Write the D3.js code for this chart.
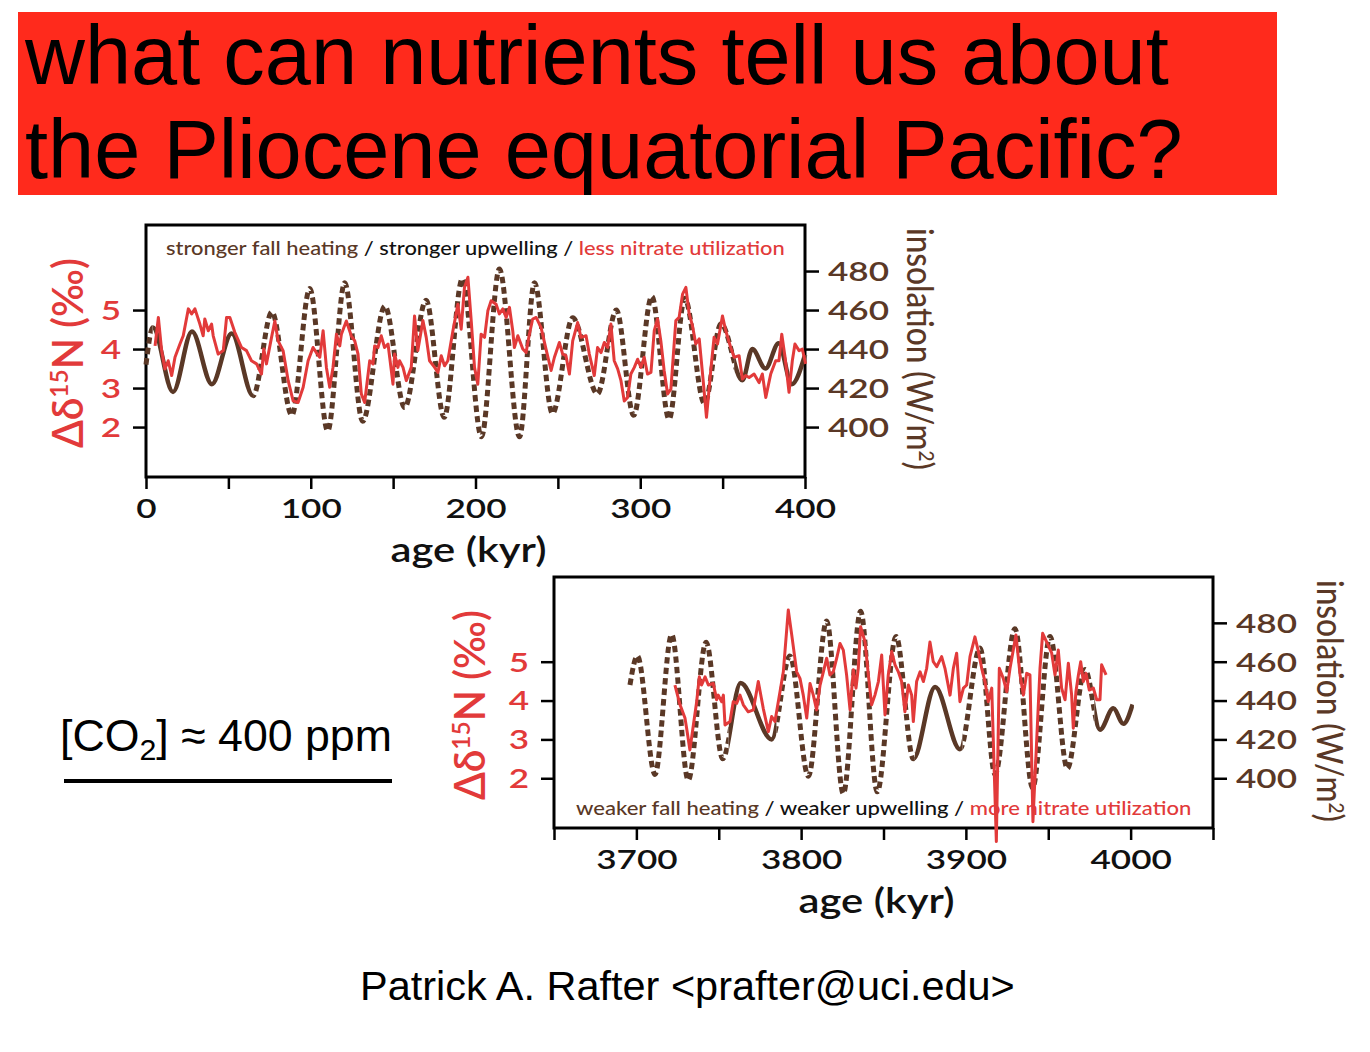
<!DOCTYPE html>
<html>
<head>
<meta charset="utf-8">
<script src="https://cdn.jsdelivr.net/npm/d3@7"></script>
<style>
  body { margin: 0; background: #fff; }
  svg { display: block; }
</style>
</head>
<body>
<div id="chart"></div>
<script>
const svgWidth = 1370;
const svgHeight = 1052;

const brown = "#5a3826";
const red = "#e23a3a";
const futura = "Lato, 'Open Sans', sans-serif";
const arial = "'Liberation Sans', Arial, sans-serif";
const SX = 1.35; // the figure was pasted in stretched sideways

// shared y scales
const n15Domain = [0.72, 7.18];
const insolDomain = [374.4, 503.6];
const n15Ticks = [2, 3, 4, 5];
const insolTicks = [400, 420, 440, 460, 480];

// ---- upper panel, 0-400 kyr ----
const topAgeDomain = [0, 400];
const topAgeTicks = [0, 50, 100, 150, 200, 250, 300, 350, 400];

const topInsolAge = [0, 4.2, 16.4, 27.9, 40, 52, 65, 76.4, 88.5, 99.4, 110.3, 120.6, 131.5,
  145, 157, 170, 181, 192, 203.6, 214.5, 226.7, 235.8, 246.7, 259, 274, 285.5, 296, 307,
  317.5, 327, 339, 349, 362, 368, 376, 384, 392, 400];
const topInsolVal = [432, 451, 418, 449, 422, 448, 416, 459, 406, 471, 398, 474, 403,
  462, 410, 465, 405, 476, 395, 481, 395, 474, 407, 456, 417, 460, 406, 467,
  404, 466, 412, 453, 424, 440, 430, 443, 422, 437];
const topInsolSolid = [[4, 65], [357, 401]];

const topN15Age = [5.5, 7.5, 9.5, 11.5, 13.5, 15.6, 17.6, 20.6, 22.6, 25.7, 27.7, 29.7, 32.7,
  34.7, 35.7, 37.8, 39.8, 40.8, 43.8, 46.9, 48.9, 50.9, 53.9, 58, 61, 64, 67.1, 70.1, 71.5,
  73.1, 76.2, 78.2, 80.2, 83.2, 86.3, 89.3, 92.3, 95.4, 98.4, 101.4, 103.4, 105.5, 107.5,
  109.5, 111.5, 113.5, 115.6, 117.6, 118.6, 121.6, 124.6, 126.7, 128.7, 130.7, 132.7, 135.8,
  137.8, 138.8, 140.8, 142.8, 144.8, 146.9, 148.9, 149.9, 150.9, 152.9, 153.9, 156, 158,
  161, 163, 165, 168.1, 170.1, 172.1, 175.2, 177.2, 179.2, 181.2, 183.2, 186.3, 189.3,
  191.3, 193.3, 195.4, 197.4, 199.4, 201.4, 203.4, 205.5, 207.5, 209.5, 212.5, 214.5,
  216.6, 218.6, 220.6, 222.6, 223.6, 225.7, 228.7, 230.7, 232.7, 234.7, 236.8, 239.8,
  242.8, 245.9, 247.9, 249.9, 250.9, 252.9, 254.9, 257, 259, 262, 264, 267.1, 269.1,
  272.1, 274.1, 276.2, 278.2, 280.2, 282.2, 284.2, 286.3, 288.3, 290.3, 292.3, 294.3,
  296.4, 298.4, 300.4, 302.4, 304.4, 306.5, 308.5, 310.5, 312.5, 314.5, 316.6, 318.6,
  321.6, 323.6, 325.7, 327.7, 329.7, 331.7, 333.7, 335.8, 338.2, 340.2, 342.8, 344.8,
  346.9, 349.9, 351.9, 354.9, 357, 360, 362, 364, 366.1, 369.1, 372.1, 374.1, 376.2,
  379.2, 382.2, 384.2, 385.9, 387.9, 390.3, 392.3, 393.9, 396.4, 398.4, 400.4];
const topN15Val = [4.08, 4.81, 3.96, 3.49, 3.70, 3.32, 3.79, 4.13, 4.34, 5.03, 4.90, 5.03, 4.64,
  4.34, 4.77, 4.47, 4.64, 4.34, 3.87, 3.96, 4.81, 4.81, 4.43, 4.04, 3.96, 3.70, 3.62, 3.36, 4.00,
  3.62, 4.30, 4.72, 4.21, 3.96, 3.19, 2.67, 2.63, 3.02, 3.70, 4.04, 3.91, 3.79, 4.47,
  3.53, 3.02, 3.53, 4.38, 4.08, 4.38, 4.72, 4.34, 4.21, 3.87, 2.85, 2.63, 3.70,
  3.62, 4.08, 4.04, 4.34, 4.04, 4.13, 3.45, 3.10, 3.87, 3.53, 3.70, 3.53, 3.19,
  3.53, 4.85, 3.96, 4.73, 4.30, 3.70, 3.53, 3.40, 3.83, 3.57, 3.70, 4.47, 5.15,
  4.51, 5.58, 5.84, 4.73, 3.53, 3.10, 4.38, 4.30, 4.98, 5.24, 5.15, 4.90,
  5.03, 4.81, 5.07, 4.47, 4.04, 4.34, 4.00, 3.91, 4.38, 4.77, 4.81, 4.55,
  4.00, 3.45, 3.79, 4.04, 4.17, 3.87, 3.83, 3.36, 4.21, 4.68, 4.30, 4.34, 3.87,
  3.32, 4.04, 3.91, 4.17, 4.04, 4.64, 3.70, 3.49, 3.19, 2.67, 2.76, 3.36,
  3.53, 3.74, 3.53, 3.79, 3.36, 3.40, 4.47, 4.77, 4.21, 3.45, 2.85, 2.97,
  4.73, 4.81, 5.41, 5.58, 4.90, 4.60, 4.13, 4.26, 3.19, 2.25, 3.45, 4.30,
  4.13, 4.85, 4.47, 4.04, 3.79, 3.83, 3.23, 3.32, 3.27, 3.36, 3.14, 3.36, 2.76,
  3.36, 3.70, 3.70, 4.38, 3.79, 2.89, 3.70, 4.13, 3.96, 4.00, 3.62];

// ---- lower panel, 3650-4050 kyr ----
const botAgeDomain = [3650, 4050];
const botAgeTicks = [3650, 3700, 3750, 3800, 3850, 3900, 3950, 4000, 4050];

const botInsolAge = [3696.1, 3700.6, 3711.3, 3721.4, 3731.5, 3742.3, 3752.4, 3763.3, 3782.1,
  3793.2, 3804.4, 3815.5, 3825.6, 3836.1, 3846.2, 3857.6, 3868.1, 3881.3, 3896.4, 3908.6,
  3917.7, 3929.8, 3940.5, 3951.1, 3961.6, 3972.3, 3981.4, 3989.5, 3995.6, 4001.2];
const botInsolVal = [448, 463, 402, 474, 399, 470, 410, 449, 420,
  463, 401, 481, 392, 486, 393, 473, 410, 447, 415, 467,
  402, 477, 395, 473, 405, 456, 425, 436, 428, 438];
const botInsolSolid = [[3756, 3785], [3869, 3898], [3978, 4002]];

const botN15Age = [3723.4, 3726.5, 3729.5, 3730.5, 3732.5, 3734.6, 3736.6, 3738.2, 3739.6,
  3741.7, 3743.7, 3746.7, 3748.7, 3749.7, 3751.8, 3752.8, 3753.8, 3756.8, 3758.8, 3760.9,
  3762.9, 3764.9, 3767.9, 3771, 3774, 3777, 3780.1, 3782.1, 3784.1, 3787.2, 3789.2, 3792.2,
  3794.3, 3797.3, 3799.3, 3801.3, 3803.4, 3805.4, 3807.4, 3809.4, 3811.5, 3813.5, 3815.5,
  3817.5, 3819.5, 3821.6, 3823.6, 3825.6, 3827.6, 3829.7, 3831.7, 3833.3, 3834.7, 3836.1,
  3838.8, 3840.8, 3842.8, 3844.8, 3846.9, 3848.9, 3850.9, 3852.9, 3855, 3857, 3859, 3861,
  3863, 3865.1, 3867.1, 3868.1, 3870.1, 3872.2, 3874.2, 3876.2, 3878.2, 3880.2, 3882.3,
  3885.3, 3887.3, 3890.4, 3892.4, 3894.4, 3896.4, 3898.5, 3900.5, 3902.5, 3905.5, 3907.6,
  3909.6, 3911.6, 3913.6, 3915.7, 3918.5, 3920.3, 3922.7, 3924.8, 3926.8, 3930.4, 3932.9,
  3934.9, 3936.9, 3938.9, 3940.7, 3945, 3946.6, 3949, 3952.1, 3954.1, 3956.1, 3958.1,
  3960.2, 3962.2, 3964.2, 3965.2, 3966.8, 3968.3, 3969.7, 3971.3, 3972.9, 3974.9, 3977.4,
  3979.4, 3981.4, 3982.4, 3985.1];
const botN15Val = [4.40, 3.89, 3.55, 3.29, 2.73, 3.37, 3.97, 4.61, 4.40,
  4.61, 4.40, 4.44, 4.02, 4.14, 3.97, 4.14, 3.37, 3.46, 3.97, 3.93,
  4.14, 3.89, 3.71, 3.76, 4.49, 3.80, 3.20, 3.59, 3.46, 4.23, 4.74, 6.33,
  5.69, 4.74, 4.57, 4.14, 3.55, 4.44, 4.14, 3.76, 4.40, 4.74, 5.09,
  4.66, 4.74, 5.09, 5.47, 5.30, 4.66, 3.76, 4.79, 4.32, 4.83, 5.90,
  5.51, 4.66, 3.89, 4.14, 4.49, 5.17, 3.63, 4.66, 5.26, 4.92, 4.74, 4.49,
  3.71, 4.40, 4.14, 3.46, 4.49, 4.74, 4.49, 4.83, 5.51, 5.00, 4.87,
  5.13, 4.83, 4.14, 4.83, 5.22, 3.97, 4.32, 4.40, 5.13, 5.64, 5.26,
  4.83, 4.49, 3.97, 4.32, 0.37, 4.83, 4.57, 4.23, 4.83, 5.69, 4.66,
  4.14, 4.70, 4.66, 0.88, 4.83, 5.73, 5.51, 5.22, 4.66, 5.30, 4.32,
  4.02, 4.96, 4.14, 3.29, 4.23, 4.66, 5.00, 4.49, 4.70, 4.27, 4.32,
  4.02, 4.02, 4.92, 4.66];

const svg = d3.select("#chart")
    .append("svg")
    .attr("width", svgWidth)
    .attr("height", svgHeight)
    .style("font-family", futura);

// fit a text's width by changing its font size
function fitFont(t, target) {
    const w = t.node().getBBox().width;
    t.attr("font-size", +t.attr("font-size") * target / w);
}

// ---- title ----
svg.append("rect")
    .attr("x", 18).attr("y", 12)
    .attr("width", 1259).attr("height", 183)
    .attr("fill", "#ff2a1c");

const title1 = svg.append("text")
    .attr("x", 25).attr("y", 84)
    .attr("font-family", arial).attr("font-size", 83)
    .text("what can nutrients tell us about");
fitFont(title1, 1145);
svg.append("text")
    .attr("x", 25).attr("y", 178)
    .attr("font-family", arial).attr("font-size", title1.attr("font-size"))
    .text("the Pliocene equatorial Pacific?");

// ---- CO2 note and author ----
const co2 = svg.append("text")
    .attr("x", 60).attr("y", 751)
    .attr("font-family", arial).attr("font-size", 42);
co2.append("tspan").text("[CO");
co2.append("tspan").attr("dy", 9).style("font-size", "0.68em").text("2");
co2.append("tspan").attr("dy", -9).text("] \u2248 400 ppm");
fitFont(co2, 332);

svg.append("line")
    .attr("x1", 64).attr("x2", 392)
    .attr("y1", 781).attr("y2", 781)
    .attr("stroke", "#000").attr("stroke-width", 4);

const author = svg.append("text")
    .attr("x", 360).attr("y", 1000)
    .attr("font-family", arial).attr("font-size", 38)
    .text("Patrick A. Rafter <prafter@uci.edu>");
fitFont(author, 655);

// ---- panels ----
function drawPanel(p) {
    const g = svg.append("g").attr("transform", `translate(${p.left},${p.top})`);

    const x = d3.scaleLinear().domain(p.ageDomain).range([0, p.width]);
    const yN = d3.scaleLinear().domain(n15Domain).range([p.height, 0]);
    const yI = d3.scaleLinear().domain(insolDomain).range([p.height, 0]);

    // bottom axis: ticks every 50, labels every 100
    const gx = g.append("g")
        .attr("transform", `translate(0,${p.height})`)
        .call(d3.axisBottom(x).tickValues(p.ageTicks).tickSize(12)
            .tickFormat(d => d % 100 === 0 ? d : ""));
    gx.select(".domain").remove();
    gx.attr("font-family", futura).attr("font-size", 26).attr("font-weight", 600);
    gx.selectAll("line").attr("stroke-width", 2.5);
    gx.selectAll("text").attr("y", 41).attr("dy", null)
        .attr("fill", "#111").attr("transform", `scale(${SX},1)`);

    // left axis (d15N, red)
    const gl = g.append("g")
        .call(d3.axisLeft(yN).tickValues(n15Ticks).tickSize(13).tickPadding(12)
            .tickFormat(d3.format("d")));
    gl.select(".domain").remove();
    gl.attr("font-family", futura).attr("font-size", 26).attr("font-weight", 600);
    gl.selectAll("line").attr("stroke-width", 2.5);
    gl.selectAll("text").attr("x", -25 / SX).attr("dy", "0.36em")
        .attr("fill", red).attr("transform", `scale(${SX},1)`);

    // right axis (insolation, brown)
    const gr = g.append("g")
        .attr("transform", `translate(${p.width},0)`)
        .call(d3.axisRight(yI).tickValues(insolTicks).tickSize(14).tickPadding(9)
            .tickFormat(d3.format("d")));
    gr.select(".domain").remove();
    gr.attr("font-family", futura).attr("font-size", 26).attr("font-weight", 600);
    gr.selectAll("line").attr("stroke-width", 2.5);
    gr.selectAll("text").attr("x", 23 / SX).attr("dy", "0.36em")
        .attr("fill", brown).attr("transform", `scale(${SX},1)`);

    // frame
    g.append("rect")
        .attr("width", p.width).attr("height", p.height)
        .attr("fill", "none").attr("stroke", "#000").attr("stroke-width", 3);

    // insolation: one curve, dashed except in the solid stretches
    const insol = p.insolAge.map((a, i) => [a, p.insolVal[i]]);
    const lineI = d3.line()
        .x(d => x(d[0])).y(d => yI(d[1]))
        .curve(d3.curveMonotoneX);

    const gaps = [];
    let start = p.ageDomain[0] - 20;
    p.solid.forEach(([a, b]) => { gaps.push([start, a]); start = b; });
    gaps.push([start, p.ageDomain[1] + 20]);

    function clip(id, ranges) {
        const cp = svg.append("clipPath").attr("id", id);
        ranges.forEach(([a, b]) => cp.append("rect")
            .attr("x", x(a)).attr("width", x(b) - x(a))
            .attr("y", -50).attr("height", p.height + 100));
    }
    clip(p.id + "-solid", p.solid);
    clip(p.id + "-dash", gaps);

    g.append("path")
        .datum(insol)
        .attr("d", lineI)
        .attr("clip-path", `url(#${p.id}-dash)`)
        .attr("fill", "none").attr("stroke", brown)
        .attr("stroke-width", 5)
        .attr("stroke-dasharray", "6.5,4");

    g.append("path")
        .datum(insol)
        .attr("d", lineI)
        .attr("clip-path", `url(#${p.id}-solid)`)
        .attr("fill", "none").attr("stroke", brown)
        .attr("stroke-width", 4.5);

    // d15N
    const n15 = p.n15Age.map((a, i) => [a, p.n15Val[i]]);
    g.append("path")
        .datum(n15)
        .attr("d", d3.line().x(d => x(d[0])).y(d => yN(d[1])))
        .attr("fill", "none").attr("stroke", red)
        .attr("stroke-width", 3)
        .attr("stroke-linejoin", "round");

    // note inside the frame
    const note = svg.append("text").attr("font-size", 20).attr("font-weight", 500);
    p.note.forEach(([txt, col]) => note.append("tspan").attr("fill", col).text(txt));
    const s = p.noteW / note.node().getBBox().width;
    note.attr("transform", `translate(${p.noteX},${p.noteY}) scale(${s},1)`);

    // x title
    const xt = svg.append("text")
        .attr("text-anchor", "middle").attr("font-size", 34).attr("font-weight", 600)
        .attr("fill", "#111")
        .text("age (kyr)");
    const sx = 156 / xt.node().getBBox().width;
    xt.attr("transform", `translate(${p.left + p.width / 2 - 7},${p.top + p.height + 85}) scale(${sx},1)`);

    // left title
    const lt = svg.append("text")
        .attr("text-anchor", "middle").attr("font-size", 31).attr("font-weight", 600)
        .attr("fill", red)
        .attr("transform", `translate(${p.left - p.leftTitleDx},${p.top + 128}) scale(${SX},1) rotate(-90)`);
    lt.append("tspan").text("\u0394\u03b4");
    lt.append("tspan").attr("dy", -11).style("font-size", "0.6em").text("15");
    lt.append("tspan").attr("dy", 11).text("N (\u2030)");
    lt.attr("textLength", 190).attr("lengthAdjust", "spacingAndGlyphs");

    // right title
    const rt = svg.append("text")
        .attr("text-anchor", "middle").attr("font-size", 27).attr("font-weight", 500)
        .attr("fill", brown)
        .attr("transform", `translate(${p.left + p.width + p.rightTitleDx},${p.top + 124}) scale(${SX},1) rotate(90)`);
    rt.append("tspan").text("insolation (W/m");
    rt.append("tspan").attr("dy", -9).style("font-size", "0.6em").text("2");
    rt.append("tspan").attr("dy", 9).text(")");
    rt.attr("textLength", 242).attr("lengthAdjust", "spacingAndGlyphs");
}

drawPanel({
    id: "top", left: 146, top: 225, width: 659, height: 252,
    ageDomain: topAgeDomain, ageTicks: topAgeTicks,
    insolAge: topInsolAge, insolVal: topInsolVal, solid: topInsolSolid,
    n15Age: topN15Age, n15Val: topN15Val,
    note: [["stronger fall heating", brown], [" / stronger upwelling / ", "#111"],
           ["less nitrate utilization", red]],
    noteX: 166, noteY: 255, noteW: 619,
    leftTitleDx: 63, rightTitleDx: 102
});

drawPanel({
    id: "bot", left: 554, top: 577, width: 659, height: 251,
    ageDomain: botAgeDomain, ageTicks: botAgeTicks,
    insolAge: botInsolAge, insolVal: botInsolVal, solid: botInsolSolid,
    n15Age: botN15Age, n15Val: botN15Val,
    note: [["weaker fall heating", brown], [" / weaker upwelling / ", "#111"],
           ["more nitrate utilization", red]],
    noteX: 576, noteY: 815, noteW: 616,
    leftTitleDx: 69, rightTitleDx: 104
});
</script>
</body>
</html>
